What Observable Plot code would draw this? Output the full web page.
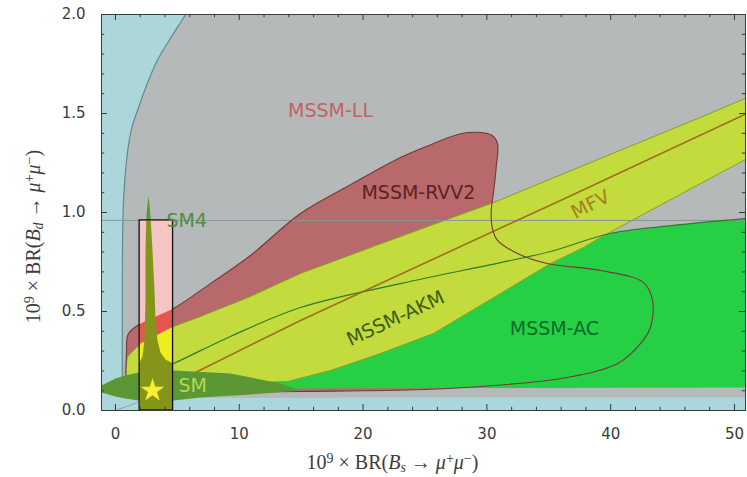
<!DOCTYPE html>
<html><head><meta charset="utf-8">
<script src="https://cdn.jsdelivr.net/npm/d3@7"></script>
<script src="https://cdn.jsdelivr.net/npm/@observablehq/plot@0.6"></script>
<style>body{margin:0;background:#fff;} svg{display:block;}</style>
</head><body>
<div id="chart"></div>
<script>
// ---------------- data ----------------
const xDomain = [-1.13, 50.89];
const yDomain = [0, 2];
const xMajorTicks = [0, 10, 20, 30, 40, 50];
const xMinorTicks = [2,4,6,8,12,14,16,18,22,24,26,28,32,34,36,38,42,44,46,48];
const yMajorTicks = [0, 0.5, 1.0, 1.5, 2.0];
const yMinorTicks = [0.1,0.2,0.3,0.4,0.6,0.7,0.8,0.9,1.1,1.2,1.3,1.4,1.6,1.7,1.8,1.9];
const xTickLabels = ["0","10","20","30","40","50"];
const yTickLabels = ["0.0","0.5","1.0","1.5","2.0"];

// MSSM-LL (grey) region
const regionLL = [[6.3,2.1],[5.65,2.0],[5.0,1.935],[4.44,1.88],[3.39,1.77],[2.5,1.64],[1.78,1.515],[1.37,1.44],[1.05,1.34],[0.81,1.21],[0.65,1.06],[0.58,0.9],[0.56,0.75],[0.55,0.556],[0.55,0.3],[0.55,0.12],[0.6,0.068],[2,0.066],[30,0.066],[51.5,0.066],[53,0.066],[53,1.0],[53,2.1],[30,2.1]];
const curveLL = [[6.3,2.1],[5.65,2.0],[5.0,1.935],[4.44,1.88],[3.39,1.77],[2.5,1.64],[1.78,1.515],[1.37,1.44],[1.05,1.34],[0.81,1.21],[0.65,1.06],[0.58,0.9],[0.56,0.75],[0.55,0.556],[0.55,0.3],[0.55,0.12]];
const edgeLL = [[0,0],[1.78,0.04]];
// MSSM-RVV2 (red) region
const regionRVV2 = [[0.89,0.30],[0.92,0.36],[1.05,0.389],[2.02,0.439],[4.685,0.515],[7.67,0.641],[10.9,0.783],[14.94,0.995],[18.98,1.14],[23.02,1.278],[25.69,1.348],[27.87,1.398],[29.48,1.404],[30.4,1.39],[30.86,1.348],[30.75,1.227],[30.53,1.096],[30.35,1.01],[30.45,0.919],[30.86,0.859],[32.47,0.793],[34.89,0.742],[39.18,0.707],[42.65,0.646],[43.38,0.556],[43.21,0.419],[42.41,0.338],[40.55,0.237],[36.51,0.167],[30.53,0.126],[24.88,0.106],[14.94,0.096],[6.87,0.091],[1.21,0.091],[0.89,0.15]];
// MSSM-AC (green) region and its upper boundary
const regionAC = [[1.21,0.141],[4.685,0.237],[9.289,0.374],[14.94,0.52],[23.02,0.641],[31.1,0.747],[35.14,0.803],[39.98,0.894],[45.64,0.939],[51.5,0.973],[51.5,0.116],[14.14,0.111],[1.21,0.111]];
const lineAC = [[1.21,0.141],[4.685,0.237],[9.289,0.374],[14.94,0.52],[23.02,0.641],[31.1,0.747],[35.14,0.803],[39.98,0.894],[45.64,0.939],[51.5,0.973]];
// MSSM-AKM + MFV band (yellow-green)
const regionBand = [[0.808,0.212],[0.97,0.273],[2.02,0.338],[4.685,0.424],[6.866,0.475],[10.9,0.576],[14.94,0.692],[23.02,0.879],[30.53,1.05],[39.18,1.273],[47.25,1.48],[51.5,1.593],[51.5,1.288],[47.25,1.146],[43.21,1.01],[39.18,0.874],[37.8,0.823],[35.14,0.742],[31.1,0.591],[25.69,0.389],[21.41,0.288],[17.37,0.202],[13.89,0.146],[10.9,0.141],[6.866,0.172],[4.685,0.197],[2.02,0.182],[0.808,0.172]];
// MFV central line
const lineMFV = [[6.3,0.187],[14.94,0.455],[35.95,1.061],[51.5,1.515]];
// SM spindle and SM4 spike (dark green)
const regionSM = [[-1.6,0.128],[-1.13,0.126],[0,0.162],[0.808,0.177],[1.858,0.192],[4.685,0.202],[9.289,0.187],[13.33,0.136],[14.94,0.101],[10.9,0.081],[6.866,0.066],[4.685,0.051],[1.858,0.051],[0.808,0.061],[0,0.071],[-1.13,0.091],[-1.6,0.095]];
const regionSM4 = [[2.666,1.086],[2.827,0.985],[2.989,0.808],[3.15,0.606],[3.231,0.455],[3.393,0.354],[3.635,0.293],[4.039,0.258],[4.65,0.237],[4.65,0],[1.95,0],[1.95,0.242],[2.18,0.273],[2.34,0.354],[2.42,0.556],[2.42,0.808],[2.5,0.985]];
// experimental box and Bd bound
const boxX = [1.95, 4.65];
const boxY = [0, 0.96];
const boundBd = [0.96];
// SM point
const smPoint = [[2.99, 0.101]];
// region labels
const labelText   = ["MSSM-LL","MSSM-RVV2","MFV","MSSM-AKM","MSSM-AC","SM4","SM"];
const labelX      = [17.37, 24.47, 38.37, 22.62, 35.46, 4.12, 5.09];
const labelY      = [1.515, 1.101, 1.04, 0.465, 0.414, 0.96, 0.126];
const labelRotate = [0, 0, -27, -25, 0, 0, 0];
const labelAnchor = ["middle","middle","middle","middle","middle","start","start"];
const labelColor  = ["#c46262","#5e2222","#a58020","#3e5c12","#0e6a2c","#4f8f3f","#b2d84c"];
// axis titles
const xTitle = [["10",""],["9","sup"],[" × BR(",""],["B","it"],["s","sub"],[" → ",""],["μ","it"],["+","sup"],["μ","it"],["−","sup"],[")",""]];
const yTitle = [["10",""],["9","sup"],[" × BR(",""],["B","it"],["d","sub"],[" → ",""],["μ","it"],["+","sup"],["μ","it"],["−","sup"],[")",""]];

// ---------------- helpers ----------------
function clipPolygon(poly, x0, x1, y0, y1) {
  const inside = [p => p[0] >= x0, p => p[0] <= x1, p => p[1] >= y0, p => p[1] <= y1];
  const cut = [
    (a,b) => [x0, a[1] + (b[1]-a[1])*(x0-a[0])/(b[0]-a[0])],
    (a,b) => [x1, a[1] + (b[1]-a[1])*(x1-a[0])/(b[0]-a[0])],
    (a,b) => [a[0] + (b[0]-a[0])*(y0-a[1])/(b[1]-a[1]), y0],
    (a,b) => [a[0] + (b[0]-a[0])*(y1-a[1])/(b[1]-a[1]), y1]
  ];
  let out = poly;
  for (let e = 0; e < 4; e++) {
    const inp = out; out = [];
    for (let i = 0; i < inp.length; i++) {
      const cur = inp[i], prev = inp[(i + inp.length - 1) % inp.length];
      const ci = inside[e](cur), pi = inside[e](prev);
      if (ci) { if (!pi) out.push(cut[e](prev, cur)); out.push(cur); }
      else if (pi) out.push(cut[e](prev, cur));
    }
  }
  return out;
}
const px = d => d[0], py = d => d[1];
function poly(data, fill, opts = {}) {
  return Plot.line(data, {x: px, y: py, fill, stroke: "none", curve: "linear-closed", clip: true, ...opts});
}
const inBox = p => clipPolygon(p, boxX[0], boxX[1], boxY[0], boxY[1]);

const tickColor = "#2f3b3b";
const majY = 0.03, minY = 0.016, majX = 0.48, minX = 0.26;

const labelMarks = labelText.map((t, i) => Plot.text([t], {
  x: labelX[i], y: labelY[i], text: d => d, rotate: labelRotate[i],
  textAnchor: labelAnchor[i], fill: labelColor[i], fontSize: 19, fontFamily: "DejaVu Sans"
}));

const X_PH = "XTITLEPLACEHOLDER", Y_PH = "YTITLEPLACEHOLDER";

const chart = Plot.plot({
  width: 747, height: 477,
  marginLeft: 101, marginRight: 2, marginTop: 14, marginBottom: 67,
  x: {domain: xDomain, axis: null},
  y: {domain: yDomain, axis: null},
  style: {fontFamily: "DejaVu Sans", background: "#fff"},
  marks: [
    Plot.frame({fill: "#acd6da", stroke: "none"}),
    poly(regionLL, "#b5b9b9", {curve: "catmull-rom-closed"}),
    Plot.line(curveLL, {x: px, y: py, stroke: "#5f8a92", strokeWidth: 1.2, curve: "catmull-rom", clip: true}),
    Plot.line(edgeLL, {x: px, y: py, stroke: "#8fa3a5", strokeWidth: 1, clip: true}),
    poly(regionRVV2, "#b7696c", {curve: "catmull-rom-closed"}),
    poly(regionAC, "#25d045"),
    poly(regionBand, "#c3db3d", {stroke: "#86a028", strokeWidth: 1}),
    Plot.ruleY(boundBd, {y: d => d, stroke: "#879797", strokeWidth: 1}),
    Plot.line(lineAC, {x: px, y: py, stroke: "#2f7a2a", strokeWidth: 1.2, curve: "catmull-rom", clip: true}),
    Plot.line(lineMFV, {x: px, y: py, stroke: "#a06e1e", strokeWidth: 1.6, clip: true}),
    Plot.line(regionRVV2, {x: px, y: py, stroke: "#74393a", strokeWidth: 1.1, fill: "none", curve: "catmull-rom-closed", clip: true}),
    poly(regionSM, "#5b9733"),
    poly(regionSM4, "#5b9733"),
    // inside the experimental box
    Plot.rect([0], {x1: boxX[0], x2: boxX[1], y1: boxY[0], y2: boxY[1], fill: "#f6c6c6"}),
    poly(inBox(regionRVV2), "#e65650"),
    poly(inBox(regionBand), "#efec20"),
    poly(inBox(regionSM4), "#85951a"),
    Plot.rect([0], {x1: boxX[0], x2: boxX[1], y1: boxY[0], y2: boxY[1], fill: "none", stroke: "#111", strokeWidth: 1.3}),
    Plot.dot(smPoint, {x: px, y: py, symbol: "star", r: 7.4, fill: "#f7f030", stroke: "none"}),
    ...labelMarks,
    // ticks (inward, all four sides)
    Plot.ruleX(xMajorTicks, {x: d => d, y1: 0, y2: majY, stroke: tickColor}),
    Plot.ruleX(xMajorTicks, {x: d => d, y1: 2, y2: 2 - majY, stroke: tickColor}),
    Plot.ruleX(xMinorTicks, {x: d => d, y1: 0, y2: minY, stroke: tickColor}),
    Plot.ruleX(xMinorTicks, {x: d => d, y1: 2, y2: 2 - minY, stroke: tickColor}),
    Plot.ruleY(yMajorTicks, {y: d => d, x1: xDomain[0], x2: xDomain[0] + majX, stroke: tickColor}),
    Plot.ruleY(yMajorTicks, {y: d => d, x1: xDomain[1], x2: xDomain[1] - majX, stroke: tickColor}),
    Plot.ruleY(yMinorTicks, {y: d => d, x1: xDomain[0], x2: xDomain[0] + minX, stroke: tickColor}),
    Plot.ruleY(yMinorTicks, {y: d => d, x1: xDomain[1], x2: xDomain[1] - minX, stroke: tickColor}),
    Plot.frame({stroke: "#34403f", strokeWidth: 1}),
    // tick labels
    Plot.text(xMajorTicks, {x: d => d, y: 0, dy: 24, text: (d, i) => xTickLabels[i], fontSize: 15, fill: "#3a3a3a"}),
    Plot.text(yMajorTicks, {x: xDomain[0], y: d => d, dx: -16, textAnchor: "end", text: (d, i) => yTickLabels[i], fontSize: 15, fill: "#3a3a3a"}),
    // axis titles (rich text applied below)
    Plot.text([X_PH], {frameAnchor: "bottom", textAnchor: "middle", lineAnchor: "middle", dx: -31, dy: 52, text: d => d, fontSize: 20, fontFamily: "Liberation Serif", fill: "#3c3c3c"}),
    Plot.text([Y_PH], {frameAnchor: "left", textAnchor: "middle", lineAnchor: "middle", dx: -68, dy: 24, rotate: -90, text: d => d, fontSize: 20, fontFamily: "Liberation Serif", fill: "#3c3c3c"})
  ]
});

function richText(el, segs) {
  const t = d3.select(el);
  t.text(null);
  let shift = 0;
  for (const [s, k] of segs) {
    const target = k === "sup" ? -6 : k === "sub" ? 3 : 0;
    const ts = t.append("tspan").text(s);
    if (target !== shift) ts.attr("dy", target - shift);
    shift = target;
    if (k === "sup" || k === "sub") ts.attr("font-size", "70%");
    if (k === "it" || k === "sub") ts.attr("font-style", "italic");
  }
}
chart.querySelectorAll("text").forEach(el => {
  if (el.textContent === X_PH) richText(el, xTitle);
  else if (el.textContent === Y_PH) richText(el, yTitle);
});

document.getElementById("chart").appendChild(chart);
</script>
</body></html>
